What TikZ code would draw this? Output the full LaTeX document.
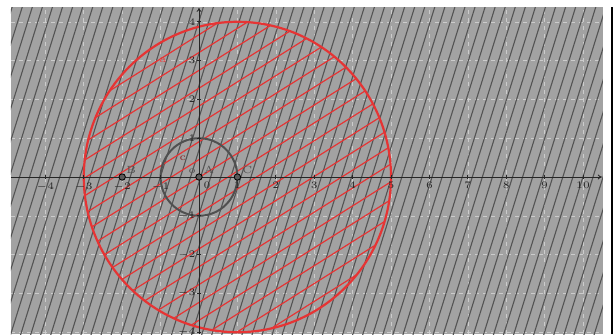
\documentclass[tikz,border=0pt]{standalone}
\usepackage{tikz}
\usetikzlibrary{arrows.meta}
\definecolor{bggray}{RGB}{162,162,162}
\definecolor{hatchgray}{RGB}{84,84,84}
\definecolor{ggred}{RGB}{230,52,52}
\definecolor{ggdark}{RGB}{80,80,80}
\begin{document}
\begin{tikzpicture}[
  x=19.2pt, y=19.4pt,
  tick/.style={font=\fontsize{4.4}{5}\selectfont, text=black!85, inner sep=0.6pt},
  lbl/.style={font=\fontsize{5.2}{6}\selectfont, inner sep=0.5pt},
  grid/.style={bggray!55!white, line width=0.3pt, dash pattern=on 2pt off 2pt},
  hatchd/.style={hatchgray, line width=0.55pt},
  hatchr/.style={ggred, line width=0.6pt},
  axis/.style={black!85, line width=0.45pt},
  pt/.style={circle, draw=black, fill=black!65, line width=0.4pt, inner sep=0pt, minimum size=3.2pt}]
\useasboundingbox (-5.182,-4.046) rectangle (10.781,4.562);
% background with grid
\fill[bggray] (-4.896,-4.05) rectangle (10.52,4.38);
\foreach \x in {-4,...,10} \draw[grid] (\x,-4.05) -- (\x,4.38);
\foreach \y in {-4,...,4} \draw[grid] (-4.896,\y) -- (10.52,\y);
% dark hatching of the whole plane
\begin{scope}
  \clip (-4.896,-4.05) rectangle (10.52,4.38);
  \foreach \i in {0,...,78} \draw[hatchd] ({-7.8+\i*0.262},-4.1) -- ++(2.68,8.5);
\end{scope}
% red hatching inside circle a
\coordinate (Cc) at (1,0);
\begin{scope}
  \clip (Cc) circle[radius=4];
  \foreach \i in {0,...,30} \draw[hatchr] (-3.1,{-9.3+\i*0.46}) -- ++(8.2,5.1);
\end{scope}
% circles
\draw[ggred, line width=1.1pt] (Cc) circle[radius=4];
\draw[ggdark, line width=1pt] (0,0) circle[radius=1];
% axes
\draw[axis, -{To[length=2pt,width=2.4pt]}] (-4.896,0) -- (10.49,0);
\draw[axis, -{To[length=2pt,width=2.4pt]}] (0,-4.05) -- (0,4.36);
\foreach \x in {-4,-3,-2,-1,1,2,3,4,5,6,7,8,9,10} {
  \draw[axis] (\x,-0.05) -- (\x,0.05);
  \node[tick, anchor=north] (tx\x) at (\x,-0.1) {$\x$};
}
\foreach \y in {-4,-3,-2,-1,1,2,3,4} {
  \draw[axis] (-0.05,\y) -- (0.05,\y);
  \node[tick, anchor=east] (ty\y) at (-0.05,\y) {$\y$};
}
\node[tick, anchor=north west] (t0) at (0.08,-0.1) {$0$};
% points
\node[pt] (B) at (-2,0) {};
\node[pt] (A) at (0,0) {};
\node[pt] (C) at (1,0) {};
\node[lbl, text=ggdark, anchor=south west] (lB) at (-1.93,0.06) {B};
\node[lbl, text=ggdark, anchor=south west] (lA) at (0.09,0.06) {A};
\node[lbl, text=ggdark, anchor=south west] (lC) at (1.09,0.06) {C};
\node[lbl, text=ggdark] (lo) at (-0.18,0.14) {o};
% circle labels
\node[lbl, text=ggred] (la) at (-0.94,3.02) {a};
\node[lbl, text=ggred!60!black] (lc) at (-0.42,0.49) {c};
% frame line at right
\draw[black, line width=0.8pt] (10.75,-4.05) -- (10.75,4.38);
\end{tikzpicture}
\end{document}
